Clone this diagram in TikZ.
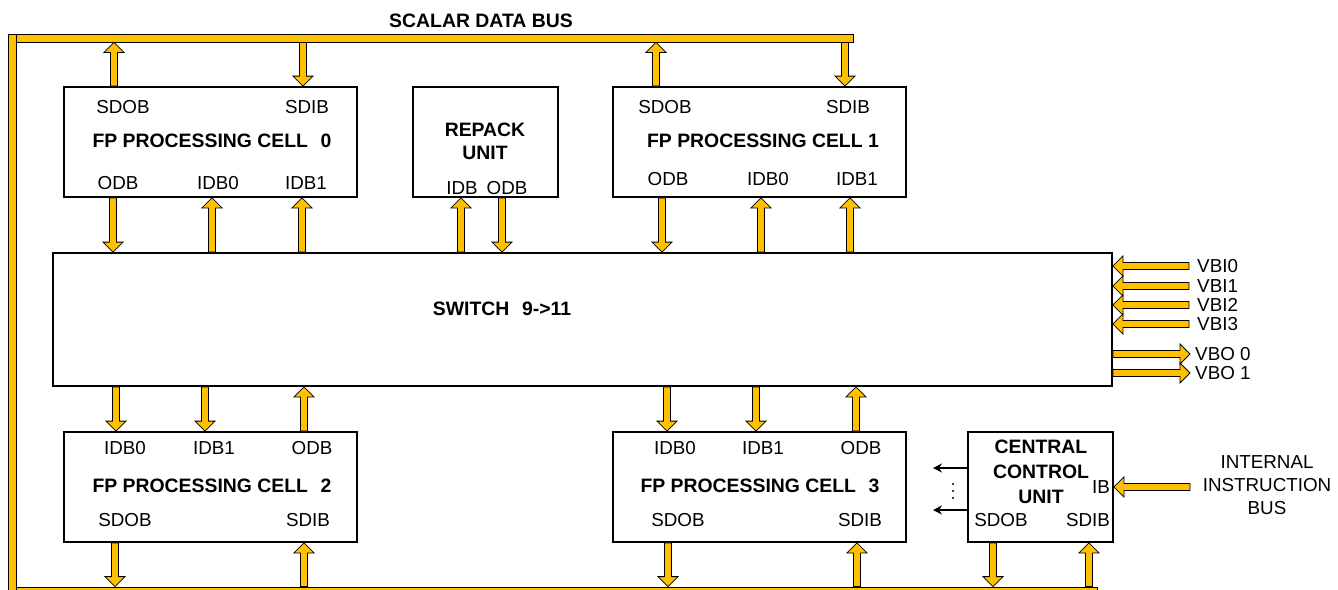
\documentclass[tikz,border=0pt]{standalone}
\usepackage{fontspec}
\setmainfont{Liberation Sans}
\usetikzlibrary{calc,arrows.meta}
\definecolor{busyellow}{RGB}{255,192,0}
\tikzset{
  blockbox/.style={draw, line width=1.8pt, inner sep=0pt, minimum height=110pt},
  busbar/.style={draw, fill=busyellow, line width=0.8pt, inner sep=0pt},
  portlbl/.style={font=\fontsize{18.8}{23}\selectfont},
  celltitle/.style={font=\fontsize{19.4}{23}\selectfont\bfseries, align=center},
  fatarrow/.style={fill=busyellow, draw=black, line width=0.8pt, line join=miter,
    to path={
      ($(\tikztostart)!3.5pt!90:(\tikztotarget)$)
      -- ($($(\tikztotarget)!10pt!(\tikztostart)$)!3.5pt!-90:(\tikztostart)$)
      -- ($($(\tikztotarget)!10pt!(\tikztostart)$)!10pt!-90:(\tikztostart)$)
      -- (\tikztotarget)
      -- ($($(\tikztotarget)!10pt!(\tikztostart)$)!10pt!90:(\tikztostart)$)
      -- ($($(\tikztotarget)!10pt!(\tikztostart)$)!3.5pt!90:(\tikztostart)$)
      -- ($(\tikztostart)!3.5pt!-90:(\tikztotarget)$)
      -- cycle}}
}
\begin{document}
\begin{tikzpicture}[x=1pt,y=-1pt]
\useasboundingbox (0,0) rectangle (1338,589);

%Scalar data bus
\node[busbar, minimum width=8pt, minimum height=566pt] (leftbus) at (12,317) {};
\node[busbar, minimum width=837pt, minimum height=8pt] (topbus) at (434.5,38) {};
\node[busbar, minimum width=1081pt, minimum height=8pt] (botbus) at (556.5,591) {};
\node[celltitle] (buslbl) at (481,21) {SCALAR DATA BUS};

%Blocks
\node[blockbox, minimum width=293pt] (cell0) at (210.5,142) {};
\node[blockbox, minimum width=145pt] (repack) at (485.5,142) {};
\node[blockbox, minimum width=293pt] (cell1) at (759.5,142) {};
\node[blockbox, minimum width=1059pt, minimum height=133pt] (switch) at (582.5,319.5) {};
\node[blockbox, minimum width=293pt] (cell2) at (210.5,487) {};
\node[blockbox, minimum width=293pt] (cell3) at (759.5,487) {};
\node[blockbox, minimum width=145pt] (ccu) at (1040.5,487) {};

%Cell 0
\node[portlbl] (c0sdob) at (123,107) {SDOB};
\node[portlbl] (c0sdib) at (307,107) {SDIB};
\node[celltitle] (c0name) at (212,141) {FP PROCESSING CELL\hspace{0.65em}0};
\node[portlbl] (c0odb) at (118,183) {ODB};
\node[portlbl] (c0idb0) at (218,183) {IDB0};
\node[portlbl] (c0idb1) at (306,183) {IDB1};

%Repack unit
\node[celltitle] (rpname) at (485,141.5) {REPACK\\UNIT};
\node[portlbl] (rpidb) at (462,188) {IDB};
\node[portlbl] (rpodb) at (507,188) {ODB};

%Cell 1
\node[portlbl] (c1sdob) at (665,107) {SDOB};
\node[portlbl] (c1sdib) at (848,107) {SDIB};
\node[celltitle] (c1name) at (763,141) {FP PROCESSING CELL 1};
\node[portlbl] (c1odb) at (668,179) {ODB};
\node[portlbl] (c1idb0) at (768,179) {IDB0};
\node[portlbl] (c1idb1) at (857,179) {IDB1};

%Switch
\node[celltitle] (swname) at (502,309) {SWITCH\hspace{0.65em}9->11};

%Cell 2
\node[portlbl] (c2idb0) at (125,448) {IDB0};
\node[portlbl] (c2idb1) at (214,448) {IDB1};
\node[portlbl] (c2odb) at (312,448) {ODB};
\node[celltitle] (c2name) at (212,486) {FP PROCESSING CELL\hspace{0.65em}2};
\node[portlbl] (c2sdob) at (125,520) {SDOB};
\node[portlbl] (c2sdib) at (308,520) {SDIB};

%Cell 3
\node[portlbl] (c3idb0) at (675,448) {IDB0};
\node[portlbl] (c3idb1) at (763,448) {IDB1};
\node[portlbl] (c3odb) at (861,448) {ODB};
\node[celltitle] (c3name) at (760,486) {FP PROCESSING CELL\hspace{0.65em}3};
\node[portlbl] (c3sdob) at (678,520) {SDOB};
\node[portlbl] (c3sdib) at (860,520) {SDIB};

%Central control unit
\node[celltitle, font=\fontsize{19.4}{25}\selectfont\bfseries] (ccuname) at (1041,472) {CENTRAL\\CONTROL\\UNIT};
\node[portlbl] (ccuib) at (1101,487) {IB};
\node[portlbl] (ccusdob) at (1001,520) {SDOB};
\node[portlbl] (ccusdib) at (1088,520) {SDIB};
\node[portlbl, align=center] (iibus) at (1267,485) {INTERNAL\\INSTRUCTION\\BUS};
\coordinate (ibin) at (1190,487);
\coordinate (ctl0) at (933,468);
\coordinate (ctl1) at (933,510);
\draw[-{Stealth[length=9pt,width=9pt]}, line width=1.1pt] (ccu.west |- ctl0) -- (ctl0);
\draw[-{Stealth[length=9pt,width=9pt]}, line width=1.1pt] (ccu.west |- ctl1) -- (ctl1);
\foreach \y in {484,491,498} \fill (953,\y) circle (1.1pt);

%Scalar bus arrows
\draw[fatarrow] (cell0.north -| 114,0) to (topbus.south -| 114,0);
\draw[fatarrow] (topbus.south -| 303,0) to (cell0.north -| 303,0);
\draw[fatarrow] (cell1.north -| 656,0) to (topbus.south -| 656,0);
\draw[fatarrow] (topbus.south -| 845,0) to (cell1.north -| 845,0);
\draw[fatarrow] (cell2.south -| 115,0) to (botbus.north -| 115,0);
\draw[fatarrow] (botbus.north -| 304,0) to (cell2.south -| 304,0);
\draw[fatarrow] (cell3.south -| 668,0) to (botbus.north -| 668,0);
\draw[fatarrow] (botbus.north -| 857,0) to (cell3.south -| 857,0);
\draw[fatarrow] (ccu.south -| 993,0) to (botbus.north -| 993,0);
\draw[fatarrow] (botbus.north -| 1089,0) to (ccu.south -| 1089,0);

%Switch arrows
\draw[fatarrow] (cell0.south -| 113,0) to (switch.north -| 113,0);
\draw[fatarrow] (switch.north -| 212,0) to (cell0.south -| 212,0);
\draw[fatarrow] (switch.north -| 302,0) to (cell0.south -| 302,0);
\draw[fatarrow] (switch.north -| 461,0) to (repack.south -| 461,0);
\draw[fatarrow] (repack.south -| 502,0) to (switch.north -| 502,0);
\draw[fatarrow] (cell1.south -| 662,0) to (switch.north -| 662,0);
\draw[fatarrow] (switch.north -| 761,0) to (cell1.south -| 761,0);
\draw[fatarrow] (switch.north -| 850,0) to (cell1.south -| 850,0);
\draw[fatarrow] (switch.south -| 116,0) to (cell2.north -| 116,0);
\draw[fatarrow] (switch.south -| 205,0) to (cell2.north -| 205,0);
\draw[fatarrow] (cell2.north -| 304,0) to (switch.south -| 304,0);
\draw[fatarrow] (switch.south -| 667,0) to (cell3.north -| 667,0);
\draw[fatarrow] (switch.south -| 756,0) to (cell3.north -| 756,0);
\draw[fatarrow] (cell3.north -| 856,0) to (switch.south -| 856,0);

%Vector buses
\foreach \n/\y in {0/266,1/286,2/305,3/324}{
  \node[portlbl, anchor=west, inner sep=0pt] (vbi\n) at (1197,\y) {VBI\n};
  \draw[fatarrow] ([xshift=-8pt]vbi\n.west) to (switch.east |- vbi\n.west);
}
\foreach \n/\y in {0/354,1/373}{
  \node[portlbl, anchor=west, inner sep=0pt] (vbo\n) at (1195,\y) {VBO \n};
  \draw[fatarrow] (switch.east |- vbo\n.west) to ([xshift=-5pt]vbo\n.west);
}
\draw[fatarrow] (ibin) to (ccu.east |- ibin);
\end{tikzpicture}
\end{document}
